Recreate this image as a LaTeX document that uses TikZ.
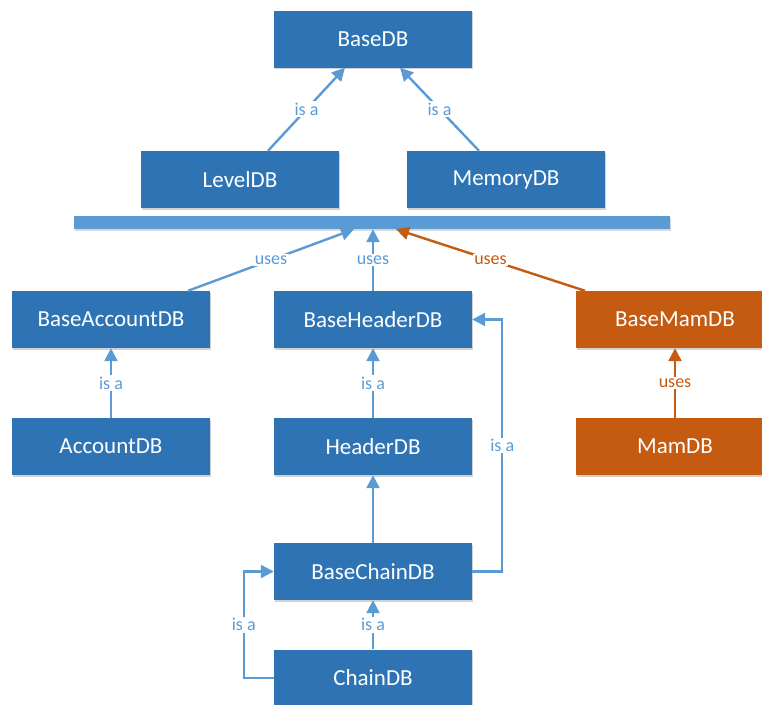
\documentclass[tikz,border=0pt]{standalone}
\usepackage{fontspec}
\setmainfont{Carlito}
\usetikzlibrary{arrows.meta,shadows,calc}

\definecolor{boxblue}{HTML}{2E74B5}
\definecolor{linkblue}{HTML}{5B9BD5}
\definecolor{mamorange}{HTML}{C55A11}

\tikzset{
  dbbox/.style={rectangle, fill=boxblue, text=white, minimum width=198pt,
    minimum height=57pt, inner sep=0pt, font=\fontsize{23}{27}\selectfont,
    drop shadow={shadow xshift=1pt, shadow yshift=-1.5pt, opacity=0.18, fill=black}},
  mambox/.style={dbbox, fill=mamorange},
  busbar/.style={rectangle, fill=linkblue, minimum width=596pt, minimum height=13pt,
    inner sep=0pt, drop shadow={shadow xshift=1pt, shadow yshift=-1.5pt, opacity=0.15, fill=black}},
  link/.style={draw=linkblue, line width=2.4pt, -{Triangle[width=13pt,length=13pt]}},
  mamlink/.style={link, draw=mamorange, -{Triangle[width=13pt,length=13pt,fill=mamorange]}},
  lbl/.style={fill=white, inner sep=1.5pt, text=linkblue, font=\fontsize{18}{21}\selectfont},
  mamlbl/.style={lbl, text=mamorange},
}

\begin{document}
\begin{tikzpicture}[x=1pt, y=-1pt]
  \useasboundingbox (0,0) rectangle (762,704);

  % storage back ends
  \node[dbbox] (BaseDB)   at (373,39)    {BaseDB};
  \node[dbbox] (LevelDB)  at (240,179.5) {LevelDB};
  \node[dbbox] (MemoryDB) at (506,179.5) {MemoryDB};
  \node[busbar] (bus)     at (372,222.5) {};

  % database layers
  \node[dbbox]  (BaseAccountDB) at (111,319.5) {BaseAccountDB};
  \node[dbbox]  (BaseHeaderDB)  at (373,319.5) {BaseHeaderDB};
  \node[mambox] (BaseMamDB)     at (675,319.5) {BaseMamDB};
  \node[dbbox]  (AccountDB)     at (111,446.5) {AccountDB};
  \node[dbbox]  (HeaderDB)      at (373,446.5) {HeaderDB};
  \node[mambox] (MamDB)         at (675,446.5) {MamDB};
  \node[dbbox]  (BaseChainDB)   at (373,571.5) {BaseChainDB};
  \node[dbbox]  (ChainDB)       at (373,678)   {ChainDB};

  % inheritance of the back ends
  \draw[link] ($(LevelDB.north)+(28,0)$) -- node[lbl] {is a} ($(BaseDB.south)+(-28,0)$);
  \draw[link] ($(MemoryDB.north)+(-27,0)$) -- node[lbl] {is a} ($(BaseDB.south)+(27,0)$);

  % layers using the back ends
  \draw[link] ($(BaseAccountDB.north)+(77,0)$) -- node[lbl] {uses} ($(bus.south)+(-18,0)$);
  \draw[link] (BaseHeaderDB.north) -- node[lbl] {uses} (BaseHeaderDB.north |- bus.south);
  \draw[mamlink] ($(BaseMamDB.north)+(-90,0)$) -- node[mamlbl] {uses} ($(bus.south)+(24,0)$);

  % layer hierarchy
  \draw[link] (AccountDB) -- node[lbl] {is a} (BaseAccountDB);
  \draw[link] (HeaderDB) -- node[lbl] {is a} (BaseHeaderDB);
  \draw[mamlink] (MamDB) -- node[mamlbl] {uses} (BaseMamDB);
  \draw[link] (BaseChainDB) -- (HeaderDB);
  \draw[link] (ChainDB) -- node[lbl] {is a} (BaseChainDB);
  \draw[link] (ChainDB.west) -- ++(-30,0) |- node[lbl, pos=0.25] {is a} (BaseChainDB.west);
  \draw[link] (BaseChainDB.east) -- ++(30,0) |- node[lbl, pos=0.25] {is a} (BaseHeaderDB.east);
\end{tikzpicture}
\end{document}
